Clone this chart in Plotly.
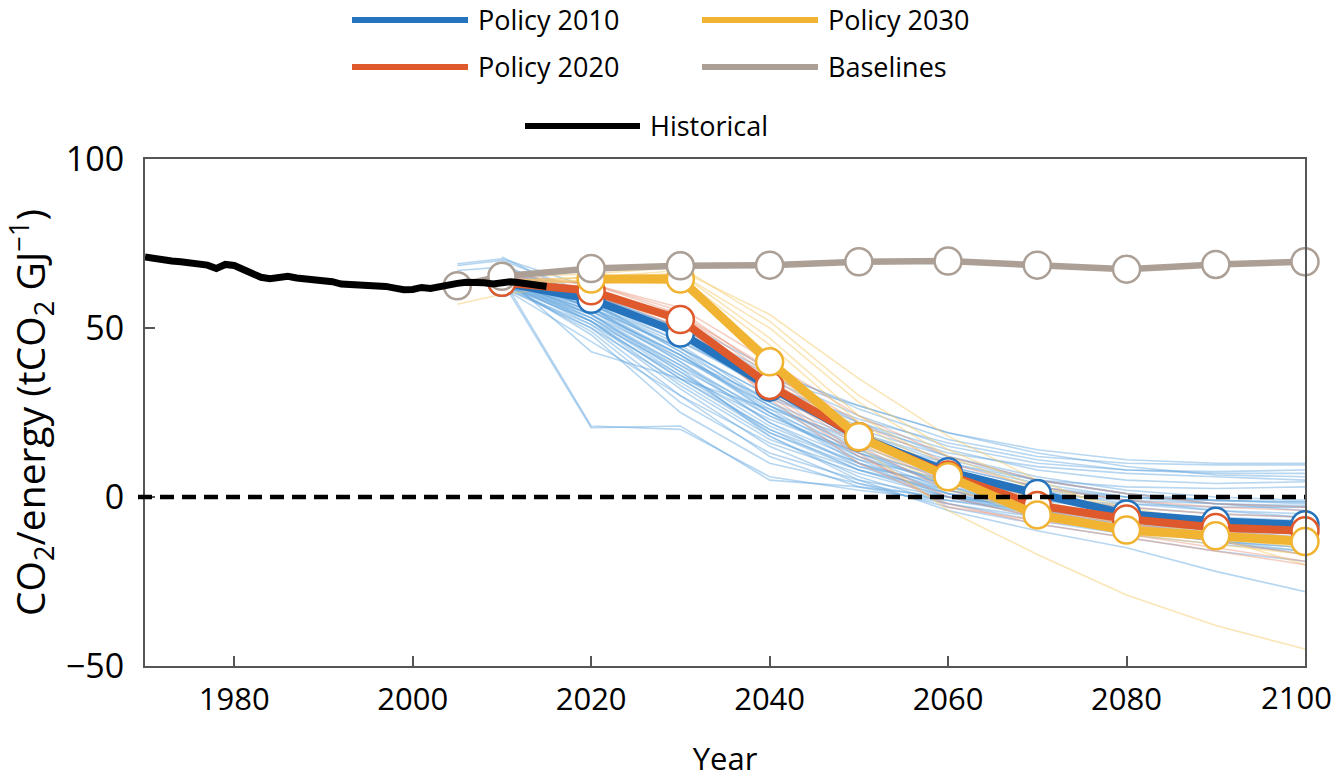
import plotly.graph_objects as go

# ---- data -------------------------------------------------------------
hist_years = list(range(1970, 2016))
hist_values = [71.0, 70.5, 70.2, 69.8, 69.6, 69.3, 69.2, 68.6, 67.6, 68.8,
               68.5, 67.2, 66.0, 65.0, 64.6, 65.0, 65.3, 64.8, 64.6, 64.4,
               64.3, 63.7, 63.0, 62.9, 62.8, 62.6, 62.4, 62.3, 61.8, 61.3,
               61.4, 62.0, 61.7, 62.3, 62.8, 63.2, 63.5, 63.6, 63.4, 63.0,
               63.6, 63.7, 63.4, 63.0, 62.6, 62.3]

run_years = [2005, 2010, 2020, 2030, 2040, 2050, 2060, 2070, 2080, 2090, 2100]

# individual model runs, Policy 2010 family
runs_2010 = [
    [69, 70.5, 62, 52, 38, 26, 17, 12, 10, 9.5, 9.5],
    [68.5, 70, 60, 50, 36, 24, 15, 10, 8, 7.5, 8],
    [None, 71, 58, 48, 35, 27, 19, 13, 9, 6.5, 6],
    [None, 69, 57, 46, 33, 22, 14, 8, 5, 4, 4.5],
    [67, 68, 59, 47, 31, 19, 10, 5, 3, 2.5, 3],
    [None, 66, 56, 44, 30, 18, 9, 3, 0, -1, -1.5],
    [None, 65, 54, 41, 27, 15, 6, 0, -3, -5, -6],
    [None, 64, 20.5, 21, 5, 3, 0, -3, -5, -7, -8],
    [None, 65, 21, 20, 6, 2, -1, -4, -6, -8, -9],
    [None, 66, 43, 35, 26, 17, 10, 4, 0, -2, -3],
    [None, 63, 52, 38, 24, 13, 4, -2, -6, -9, -11],
    [None, 64, 55, 42, 26, 12, 2, -4, -8, -11, -13],
    [None, 65, 57, 45, 28, 14, 3, -3, -7, -10, -12],
    [None, 67, 58, 43, 25, 10, 0, -6, -10, -13, -15],
    [None, 62, 50, 34, 18, 6, -2, -7, -11, -14, -16],
    [None, 63, 53, 36, 20, 8, 0, -5, -9, -12, -14],
    [None, 64, 51, 32, 15, 4, -3, -8, -12, -16, -19],
    [None, 65, 54, 39, 22, 9, 1, -3, -5, -6, -7],
    [None, 66, 56, 40, 22, 11, 5, 2, 0, -1, -1.5],
    [None, 64, 53, 37, 21, 10, 3, -1, -2, -3, -3],
    [None, 63, 50, 30, 12, 3, -2, -6, -10, -13, -15],
    [None, 65, 56, 41, 29, 20, 12, 6, 2, 0, -1],
    [None, 68, 60, 49, 35, 22, 12, 5, 1, -1, -2],
    [None, 64, 48, 25, 10, 4, -1, -5, -8, -10, -11],
    [None, 62, 46, 30, 16, 7, 0, -4, -7, -9, -10],
    [None, 65, 55, 42, 27, 16, 8, 2, -2, -4, -5],
    [None, 63, 54, 38, 18, 5, -4, -10, -15, -22, -28],
    [None, 66, 57, 44, 30, 19, 11, 5, 1, -2, -4],
    [None, 64, 52, 35, 19, 8, 1, -4, -9, -13, -16],
    [None, 66, 58, 46, 32, 21, 13, 9, 7, 6, 5],
    [None, 67, 59, 47, 33, 23, 16, 11, 8, 7, 7],
    [None, 65, 52, 33, 17, 8, 2, -2, -6, -8, -9],
    [None, 63, 49, 28, 13, 5, 0, -3, -6, -8, -9],
    [None, 64, 55, 40, 24, 12, 4, -1, -4, -7, -8],
    [None, 62, 51, 36, 23, 13, 6, 0, -4, -7, -9],
    [None, 65, 53, 39, 25, 14, 5, -2, -7, -11, -14],
    [None, 64, 56, 44, 27, 13, 3, -4, -9, -13, -17],
    [None, 66, 57, 43, 28, 17, 9, 3, -1, -4, -6],
    [None, 63, 52, 35, 20, 10, 2, -3, -5, -7, -8],
    [None, 67, 60, 50, 37, 27, 19, 14, 11, 10, 10],
    [None, 64, 54, 37, 19, 9, 4, 1, -1, -2, -2.5],
    [None, 65, 56, 42, 25, 11, 1, -5, -9, -12, -13],
]

# individual model runs, Policy 2020 family
runs_2020 = [
    [None, 64, 62, 52, 33, 16, 4, -3, -8, -11, -13],
    [None, 65, 63, 55, 37, 19, 6, -2, -7, -10, -12],
    [None, 63, 61, 50, 30, 12, 0, -6, -11, -15, -19],
    [None, 64, 62, 53, 35, 17, 5, 0, -3, -5, -6],
    [None, 65, 62, 51, 31, 13, -3, -7, -10, -13, -17],
    [None, 64, 61, 54, 38, 22, 10, 3, -1, -3, -4],
    [None, 63, 60, 49, 32, 15, 2, -4, -8, -11, -14],
    [None, 66, 63, 56, 40, 24, 12, 5, 1, -2, -3],
    [None, 64, 62, 52, 29, 10, -2, -8, -12, -16, -20],
    [None, 65, 63, 54, 36, 18, 7, 1, -4, -8, -10],
]

# individual model runs, Policy 2030 family
runs_2030 = [
    [57, 60, 63, 65, 45, 22, 7, -4, -9, -12, -15],
    [None, 64, 65, 66, 50, 28, 12, 2, -4, -8, -10],
    [None, 63, 64, 64, 38, 16, 3, -6, -11, -14, -17],
    [None, 64, 65, 67, 54, 35, 18, 5, -5, -12, -20],
    [None, 63, 64, 65, 42, 15, -4, -17, -29, -38, -45],
    [None, 65, 66, 68, 52, 30, 14, 3, -3, -8, -11],
    [None, 64, 64, 63, 40, 20, 6, -3, -8, -12, -14],
    [None, 63, 65, 66, 47, 24, 9, -1, -7, -11, -14],
]

# scenario means
mean_years = [2010, 2020, 2030, 2040, 2050, 2060, 2070, 2080, 2090, 2100]
policy_2010 = [63.5, 58.5, 48.5, 32.5, 17.8, 7.5, 1.0, -5.0, -7.2, -8.2]
policy_2020 = [63.5, 61.0, 52.5, 33.0, 17.8, 6.5, -2.5, -6.5, -9.0, -10.0]
policy_2030_years = [2020, 2030, 2040, 2050, 2060, 2070, 2080, 2090, 2100]
policy_2030 = [64.5, 64.5, 40.0, 17.8, 6.0, -5.3, -9.8, -11.5, -13.2]
base_years = [2005, 2010, 2020, 2030, 2040, 2050, 2060, 2070, 2080, 2090, 2100]
baselines = [62.5, 65.3, 67.6, 68.4, 68.6, 69.6, 69.8, 68.6, 67.4, 68.8, 69.6]

x_ticks = [1980, 2000, 2020, 2040, 2060, 2080, 2100]
y_ticks = [-50, 0, 50, 100]

# ---- styling ------------------------------------------------------------
BLUE = "#2673bd"
RED = "#de5a2c"
YELLOW = "#f1b332"
GREY = "#ab9f96"
FONT = "Open Sans"

W, H = 1337, 779
L, R, T, B = 145, 1305, 159, 666

fig = go.Figure()


def thin(runs, color):
    for r in runs:
        fig.add_trace(go.Scatter(
            x=run_years, y=r, mode="lines", connectgaps=False,
            line=dict(color=color, width=1.6), hoverinfo="skip",
            showlegend=False))


thin(runs_2010, "rgba(95,165,222,0.45)")
thin(runs_2020, "rgba(232,140,112,0.42)")
thin(runs_2030, "rgba(244,200,105,0.48)")


def thick(xs, ys, color, width=8):
    fig.add_trace(go.Scatter(
        x=xs, y=ys, mode="lines+markers", cliponaxis=False,
        line=dict(color=color, width=width),
        marker=dict(size=27, color="white", line=dict(color=color, width=2.5)),
        showlegend=False))


thick(mean_years, policy_2010, BLUE)
thick(mean_years, policy_2020, RED)
thick(policy_2030_years, policy_2030, YELLOW, width=9)
thick(base_years, baselines, GREY, width=6.5)

fig.add_trace(go.Scatter(
    x=hist_years, y=hist_values, mode="lines",
    line=dict(color="black", width=7), showlegend=False))


def px(xp):
    return (xp - L) / (R - L)


def py(yp):
    return (B - yp) / (B - T)


shapes = [
    # zero reference line
    dict(type="line", xref="paper", yref="y", x0=px(138), x1=1.0, y0=0, y1=0,
         line=dict(color="black", width=4.5, dash="14px,8px"), layer="above"),
]

legend_items = [
    ("Policy 2010", BLUE, 352, 468, 20),
    ("Policy 2030", YELLOW, 702, 818, 20),
    ("Policy 2020", RED, 352, 468, 67),
    ("Baselines", GREY, 702, 818, 67),
    ("Historical", "black", 525, 640, 126),
]
annotations = []
for label, color, x0, x1, yy in legend_items:
    shapes.append(dict(type="line", xref="paper", yref="paper",
                       x0=px(x0), x1=px(x1), y0=py(yy), y1=py(yy),
                       line=dict(color=color, width=6)))
    annotations.append(dict(text=label, xref="paper", yref="paper",
                            x=px(x1 + 8), y=py(yy), xanchor="left",
                            yanchor="middle", showarrow=False,
                            font=dict(size=27, color="black", family=FONT)))

# the last year label sits at the figure edge, so it is placed as text
annotations.append(dict(text=str(x_ticks[-1]), xref="paper", yref="paper",
                        x=px(1334), y=py(697), xanchor="right",
                        yanchor="middle", showarrow=False,
                        font=dict(size=31, color="black", family=FONT)))

fig.update_layout(
    width=W, height=H,
    margin=dict(l=L, r=W - R, t=T, b=H - B),
    paper_bgcolor="white", plot_bgcolor="white",
    shapes=shapes, annotations=annotations,
    font=dict(family=FONT, color="black"),
    xaxis=dict(range=[1970, 2100], tickvals=x_ticks,
               ticktext=[str(v) for v in x_ticks[:-1]] + [""],
               ticks="inside", automargin=False,
               ticklen=10, tickwidth=1.5, tickcolor="#555",
               showline=True, linecolor="#555", linewidth=2, mirror=True,
               showgrid=False, zeroline=False, ticklabelstandoff=5,
               tickfont=dict(size=31, family=FONT),
               title=dict(text="Year", font=dict(size=31, family=FONT),
                          standoff=30)),
    yaxis=dict(range=[-50, 100], tickvals=y_ticks,
               ticktext=["\u221250", "0", "50", "100"], automargin=False,
               ticks="inside", ticklen=10, tickwidth=1.5, tickcolor="#555",
               showline=True, linecolor="#555", linewidth=2, mirror=True,
               showgrid=False, zeroline=False, ticklabelstandoff=12,
               tickfont=dict(size=34, family=FONT),
               title=dict(text="CO<sub>2</sub>/energy (tCO<sub>2</sub> GJ<sup>\u22121</sup>)",
                          font=dict(size=39, family=FONT), standoff=16)),
)

fig.write_html("out.html")
